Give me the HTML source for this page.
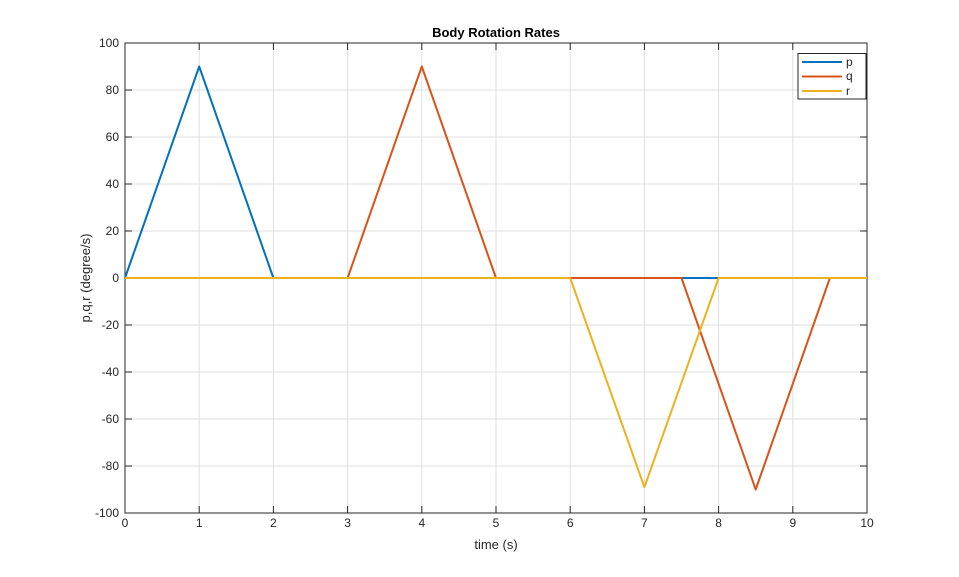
<!DOCTYPE html>
<html><head><style>body{margin:0;background:#fff}svg{display:block}text{font-family:"Liberation Sans",sans-serif;fill:#262626}</style></head><body>
<svg width="959" height="577" viewBox="0 0 959 577" xmlns="http://www.w3.org/2000/svg">
<rect width="959" height="577" fill="#fff"/>
<rect x="125" y="43" width="742" height="470" fill="#fff"/>
<g stroke="#dfdfdf" stroke-width="1">
<line x1="199.2" y1="43" x2="199.2" y2="513"/><line x1="273.4" y1="43" x2="273.4" y2="513"/><line x1="347.6" y1="43" x2="347.6" y2="513"/><line x1="421.8" y1="43" x2="421.8" y2="513"/><line x1="496" y1="43" x2="496" y2="513"/><line x1="570.2" y1="43" x2="570.2" y2="513"/><line x1="644.4" y1="43" x2="644.4" y2="513"/><line x1="718.6" y1="43" x2="718.6" y2="513"/><line x1="792.8" y1="43" x2="792.8" y2="513"/>
<line x1="125" y1="90" x2="867" y2="90"/><line x1="125" y1="137" x2="867" y2="137"/><line x1="125" y1="184" x2="867" y2="184"/><line x1="125" y1="231" x2="867" y2="231"/><line x1="125" y1="278" x2="867" y2="278"/><line x1="125" y1="325" x2="867" y2="325"/><line x1="125" y1="372" x2="867" y2="372"/><line x1="125" y1="419" x2="867" y2="419"/><line x1="125" y1="466" x2="867" y2="466"/>
</g>
<rect x="125" y="43" width="742" height="470" fill="none" stroke="#262626" stroke-width="1"/>
<g stroke="#262626">
<line x1="199.2" y1="513" x2="199.2" y2="506"/><line x1="273.4" y1="513" x2="273.4" y2="506"/><line x1="347.6" y1="513" x2="347.6" y2="506"/><line x1="421.8" y1="513" x2="421.8" y2="506"/><line x1="496" y1="513" x2="496" y2="506"/><line x1="570.2" y1="513" x2="570.2" y2="506"/><line x1="644.4" y1="513" x2="644.4" y2="506"/><line x1="718.6" y1="513" x2="718.6" y2="506"/><line x1="792.8" y1="513" x2="792.8" y2="506"/>
<line x1="199.2" y1="43" x2="199.2" y2="50"/><line x1="273.4" y1="43" x2="273.4" y2="50"/><line x1="347.6" y1="43" x2="347.6" y2="50"/><line x1="421.8" y1="43" x2="421.8" y2="50"/><line x1="496" y1="43" x2="496" y2="50"/><line x1="570.2" y1="43" x2="570.2" y2="50"/><line x1="644.4" y1="43" x2="644.4" y2="50"/><line x1="718.6" y1="43" x2="718.6" y2="50"/><line x1="792.8" y1="43" x2="792.8" y2="50"/>
<line x1="125" y1="90" x2="132" y2="90"/><line x1="125" y1="137" x2="132" y2="137"/><line x1="125" y1="184" x2="132" y2="184"/><line x1="125" y1="231" x2="132" y2="231"/><line x1="125" y1="278" x2="132" y2="278"/><line x1="125" y1="325" x2="132" y2="325"/><line x1="125" y1="372" x2="132" y2="372"/><line x1="125" y1="419" x2="132" y2="419"/><line x1="125" y1="466" x2="132" y2="466"/>
<line x1="860" y1="90" x2="867" y2="90"/><line x1="860" y1="137" x2="867" y2="137"/><line x1="860" y1="184" x2="867" y2="184"/><line x1="860" y1="231" x2="867" y2="231"/><line x1="860" y1="278" x2="867" y2="278"/><line x1="860" y1="325" x2="867" y2="325"/><line x1="860" y1="372" x2="867" y2="372"/><line x1="860" y1="419" x2="867" y2="419"/><line x1="860" y1="466" x2="867" y2="466"/>
</g>
<g fill="none" stroke-width="2" stroke-linejoin="round">
<polyline stroke="#0072BD" points="125,278 199.2,66.5 273.4,278 867,278"/>
<polyline stroke="#D95319" points="125,278 347.6,278 421.8,66.5 496,278 681.5,278 755.7,489.5 829.9,278 867,278"/>
<polyline stroke="#EDB120" points="125,278 570.2,278 644.4,487.2 718.6,278 867,278"/>
</g>
<g font-size="12" text-anchor="middle">
<text x="125" y="527">0</text><text x="199.2" y="527">1</text><text x="273.4" y="527">2</text><text x="347.6" y="527">3</text><text x="421.8" y="527">4</text><text x="496" y="527">5</text><text x="570.2" y="527">6</text><text x="644.4" y="527">7</text><text x="718.6" y="527">8</text><text x="792.8" y="527">9</text><text x="867" y="527">10</text>
</g>
<g font-size="12" text-anchor="end">
<text x="119" y="47">100</text><text x="119" y="94">80</text><text x="119" y="141">60</text><text x="119" y="188">40</text><text x="119" y="235">20</text><text x="119" y="282">0</text><text x="119" y="329">-20</text><text x="119" y="376">-40</text><text x="119" y="423">-60</text><text x="119" y="470">-80</text><text x="119" y="517">-100</text>
</g>
<text x="496" y="549" font-size="13" text-anchor="middle">time (s)</text>
<text transform="translate(90,278) rotate(-90)" font-size="13" text-anchor="middle">p,q,r (degree/s)</text>
<text x="496" y="37" font-size="13" font-weight="bold" text-anchor="middle" style="fill:#000">Body Rotation Rates</text>
<rect x="798" y="53.5" width="68" height="45.5" fill="#fff" stroke="#262626"/>
<line x1="802" y1="62" x2="842" y2="62" stroke="#0072BD" stroke-width="2"/>
<line x1="802" y1="76.5" x2="842" y2="76.5" stroke="#D95319" stroke-width="2"/>
<line x1="802" y1="91" x2="842" y2="91" stroke="#EDB120" stroke-width="2"/>
<g font-size="12" style="fill:#000"><text x="846" y="66">p</text><text x="846" y="80">q</text><text x="846" y="95">r</text></g>
</svg>
</body></html>
